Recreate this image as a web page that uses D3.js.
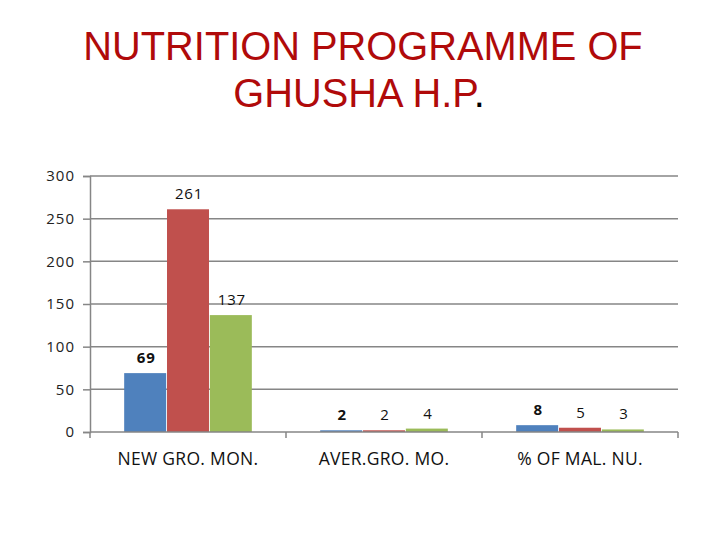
<!DOCTYPE html>
<html>
<head>
<meta charset="utf-8">
<script src="https://cdn.jsdelivr.net/npm/d3@7"></script>
<style>
body{margin:0;background:#fff}
</style>
</head>
<body>
<div id="chart"></div>
<script>
var categories=["NEW GRO. MON.","AVER.GRO. MO.","% OF MAL. NU."]
var series1=[69,2,8]
var series2=[261,2,5]
var series3=[137,4,3]
var yTicks=[0,50,100,150,200,250,300]

chart()
function chart(){
var width=720,height=540
var margin={top:176,left:90,right:42,bottom:108}
var colors=["#4F81BD","#C0504D","#9BBB59"]
var allSeries=[series1,series2,series3]

var svg=d3.select("#chart").append("svg")
		.attr("width",width)
		.attr("height",height)

// title
var title=svg.append("text")
		.attr("text-anchor","middle")
		.attr("font-family","Liberation Sans, Arial, sans-serif")
		.attr("font-size","39.8px")
		.attr("fill","#B00A0A")
title.append("tspan").attr("x",363).attr("y",60).text("NUTRITION PROGRAMME OF")
var l2=title.append("tspan").attr("x",359).attr("y",107)
l2.append("tspan").text("GHUSHA H.P")
l2.append("tspan").attr("fill","#000").text(".")

var w=width-margin.left-margin.right
var h=height-margin.top-margin.bottom
var g=svg.append("g")
		.attr("transform","translate("+margin.left+","+margin.top+")")

var y=d3.scaleLinear().domain([0,300]).range([h,0])
var x0=d3.scaleBand().domain(categories).range([0,w]).paddingInner(0).paddingOuter(0)
var x1=d3.scaleBand().domain([0,1,2]).range([x0.bandwidth()*0.17,x0.bandwidth()*0.83]).padding(0.02)

// gridlines + y axis
var yAxis=d3.axisLeft(y).tickValues(yTicks).tickSize(7).tickPadding(8)
var ya=g.append("g").call(yAxis)
ya.select(".domain").attr("stroke","#868686").attr("stroke-width",1.5)
ya.selectAll(".tick line").attr("stroke","#868686").attr("stroke-width",1.5)
ya.selectAll(".tick text")
	.attr("font-family","Open Sans, sans-serif")
	.attr("font-size","15px")
	.attr("letter-spacing","1px")
	.attr("fill","#222")

g.selectAll(".grid")
	.data(yTicks.filter(function(d){return d>0}))
	.enter().append("line")
	.attr("x1",0).attr("x2",w)
	.attr("y1",function(d){return y(d)})
	.attr("y2",function(d){return y(d)})
	.attr("stroke","#868686").attr("stroke-width",1.5)

// bars
categories.forEach(function(c,ci){
	for(var s=0;s<3;s++){
		var v=allSeries[s][ci]
		g.append("rect")
			.attr("x",x0(c)+x1(s))
			.attr("y",y(v))
			.attr("width",x1.bandwidth())
			.attr("height",h-y(v))
			.attr("fill",colors[s])
		g.append("text")
			.attr("x",x0(c)+x1(s)+x1.bandwidth()/2+1)
			.attr("y",y(v)-10)
			.attr("text-anchor","middle")
			.attr("font-family","Open Sans, sans-serif")
			.attr("font-size","15px")
			.attr("font-weight",s==0?"bold":"normal")
			.attr("letter-spacing","0.8px")
			.attr("fill","#111")
			.text(v)
	}
})

// x axis
var xa=g.append("g").attr("transform","translate(0,"+h+")")
xa.append("line").attr("x1",0).attr("x2",w).attr("y1",0).attr("y2",0)
	.attr("stroke","#868686").attr("stroke-width",1.5)
var xt=[0].concat(categories.map(function(c){return x0(c)+x0.bandwidth()}))
xa.selectAll(".xt").data(xt).enter().append("line")
	.attr("x1",function(d){return d}).attr("x2",function(d){return d})
	.attr("y1",0).attr("y2",6)
	.attr("stroke","#868686").attr("stroke-width",1.5)
xa.selectAll(".xl").data(categories).enter().append("text")
	.attr("x",function(d){return x0(d)+x0.bandwidth()/2})
	.attr("y",33)
	.attr("text-anchor","middle")
	.attr("font-family","Open Sans, sans-serif")
	.attr("font-size","17.5px")
	.attr("letter-spacing","0.3px")
	.attr("fill","#111")
	.text(function(d){return d})
}
</script>
</body>
</html>
